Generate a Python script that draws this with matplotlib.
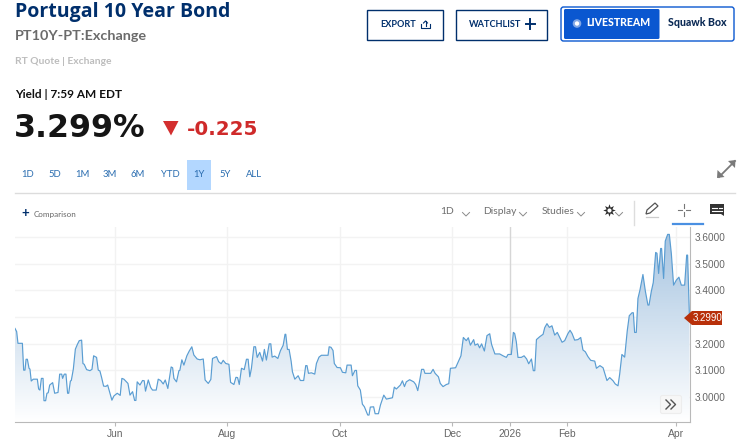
import datetime as dt
import numpy as np
import matplotlib
matplotlib.use("Agg")
import matplotlib.pyplot as plt
import matplotlib.dates as mdates
from matplotlib.colors import LinearSegmentedColormap
from matplotlib.patches import Rectangle, FancyBboxPatch, Polygon, Circle

TITLE = "Portugal 10 Year Bond"
SYMBOL = "PT10Y-PT:Exchange"
QUOTE = "RT Quote | Exchange"
STAMP = "Yield | 7:59 AM EDT"
PRICE = "3.299%"
CHANGE = "-0.225"
RANGES = ["1D", "5D", "1M", "3M", "6M", "YTD", "1Y", "5Y", "ALL"]
START = dt.datetime(2025, 4, 8)
LAST = 3.299
Y_TICKS = [3.0, 3.1, 3.2, 3.3, 3.4, 3.5, 3.6]
Y_LABELS = [3.0, 3.1, 3.2, 3.4, 3.5, 3.6]
X_TICKS = [(dt.datetime(2025, 6, 1), "Jun"), (dt.datetime(2025, 8, 1), "Aug"),
           (dt.datetime(2025, 10, 1), "Oct"), (dt.datetime(2025, 12, 1), "Dec"),
           (dt.datetime(2026, 1, 1), "2026"), (dt.datetime(2026, 2, 1), "Feb"),
           (dt.datetime(2026, 4, 1), "Apr")]

days = [0,.9,1.6,4.0,4.7,5.4,6.0,6.7,7.6,8.1,8.8,9.9,12.1,12.8,13.5,14.3,15.2,15.7,16.6,17.3,18.0,18.8,20.4,21.5,23.3,24.2,25.3,25.8,26.7,27.6,28.5,29.1,30.0,30.5,31.6,32.7,33.8,34.8,36.1,36.8,37.5,38.8,40.6,41.7,42.6,44.2,45.1,46.0,46.9,48.0,49.3,50.2,51.4,52.5,53.6,55.4,57.0,57.9,59.0,61.2,62.3,63.7,64.8,65.5,66.2,67.7,69.1,70.0,70.7,72.2,73.5,74.5,76.5,77.6,78.9,80.3,81.4,82.8,84.6,85.4,86.1,87.5,88.8,89.3,90.4,91.5,93.1,94.4,95.8,96.9,98.7,100.2,102.0,103.0,104.7,106.1,107.0,109.2,110.3,111.7,112.8,114.2,115.9,116.8,118.6,119.7,120.6,121.5,122.7,124.2,125.4,126.3,127.2,
128.1,129.4,130.3,131.2,132.6,134.1,135.1,136.2,137.7,138.6,139.3,140.7,142.4,143.8,145.3,146.3,146.7,147.6,148.5,149.6,150.3,151.6,153.4,154.6,156.4,157.5,158.2,159.0,160.6,162.4,163.3,164.7,166.0,169.6,170.2,171.2,172.3,173.0,174.5,176.3,177.4,179.2,179.9,182.1,182.8,184.2,185.0,185.7,187.1,188.2,189.3,191.1,191.8,192.5,194.3,195.1,196.9,198.0,199.8,201.2,204.5,205.5,206.6,208.1,208.8,209.9,211.0,212.0,213.8,216.0,217.1,218.2,219.3,220.3,221.4,222.1,225.2,226.5,227.6,229.4,230.4,231.9,233.7,235.0,235.9,238.7,240.2,241.6,242.9,244.5,245.6,246.7,248.5,249.2,250.7,251.7,252.8,254.3,255.7,257.2,258.2,260.0,262.6,
264.4,266.2,267.1,268.9,270.0,270.7,271.6,272.5,274.3,275.8,277.2,278.3,279.8,280.8,281.6,282.5,284.3,286.1,287.0,288.2,289.5,290.9,292.4,293.8,294.9,296.4,297.8,299.6,300.7,301.8,303.2,305.0,306.5,307.7,309.0,310.4,311.9,314.1,315.0,316.9,318.6,320.7,322.2,324.0,325.2,326.7,327.6,328.8,330.3,331.7,332.8,334.3,335.0,335.7,336.6,337.5,338.6,340.2,341.5,342.9,343.5,344.7,345.8,347.1,347.8,348.7,349.8,350.3,351.4,352.3,353.6,354.5,355.6,356.8,358.3,359.7,361.0,362.8,363.9,364.4,365.4]
yields = [3.257,3.245,3.201,3.201,3.100,3.100,3.141,3.141,3.107,3.104,3.059,3.066,3.066,3.029,3.025,3.069,3.069,2.985,2.985,3.013,3.015,3.044,3.053,3.013,3.016,3.085,3.085,3.069,3.085,3.085,3.013,3.013,3.059,3.061,3.104,3.179,3.197,3.211,3.213,3.125,3.122,3.102,3.098,3.103,3.154,3.148,3.100,3.097,3.073,3.040,3.039,3.044,3.015,2.987,3.003,3.013,3.005,3.069,3.066,3.050,3.006,3.019,2.986,2.986,3.056,3.044,3.061,3.060,3.021,3.063,3.035,3.025,3.025,3.066,3.061,3.048,3.063,3.031,3.112,3.109,3.069,3.056,3.098,3.099,3.139,3.119,3.154,3.172,3.188,3.157,3.142,3.139,3.142,3.063,3.050,3.065,3.144,3.151,3.132,3.124,3.137,3.125,3.122,3.054,3.046,3.073,3.072,3.046,3.107,3.102,3.141,3.141,3.075,
3.107,3.188,3.188,3.148,3.167,3.134,3.178,3.138,3.199,3.199,3.149,3.153,3.144,3.173,3.194,3.235,3.235,3.178,3.178,3.134,3.094,3.066,3.079,3.061,3.061,3.117,3.117,3.088,3.090,3.085,3.125,3.149,3.156,3.156,3.188,3.186,3.174,3.125,3.110,3.109,3.092,3.090,3.119,3.119,3.079,3.099,3.099,3.041,3.025,2.972,2.962,2.931,2.931,2.961,2.962,2.936,2.936,2.969,3.006,2.991,2.996,3.036,3.029,3.039,3.044,3.060,3.038,3.056,3.064,3.056,3.046,3.023,3.063,3.103,3.103,3.088,3.088,3.103,3.088,3.075,3.050,3.038,3.046,3.049,3.107,3.109,3.132,3.154,3.223,3.211,3.222,3.194,3.215,3.194,3.199,3.184,3.199,3.172,3.230,3.237,3.197,3.161,3.161,
3.154,3.148,3.159,3.159,3.242,3.238,3.207,3.148,3.148,3.154,3.142,3.124,3.142,3.098,3.098,3.215,3.226,3.235,3.260,3.275,3.261,3.267,3.232,3.242,3.226,3.205,3.211,3.238,3.250,3.238,3.213,3.215,3.223,3.176,3.169,3.151,3.137,3.134,3.107,3.117,3.109,3.061,3.072,3.060,3.048,3.041,3.085,3.159,3.149,3.248,3.305,3.316,3.316,3.242,3.242,3.370,3.402,3.460,3.398,3.345,3.345,3.395,3.430,3.543,3.540,3.464,3.558,3.558,3.445,3.586,3.611,3.611,3.538,3.420,3.439,3.450,3.420,3.420,3.533,3.533,3.299]

plt.rcParams["font.family"] = ["Lato", "DejaVu Sans"]
NAVY = "#002f6c"
HEAD = ["Open Sans", "DejaVu Sans"]
WIDE = ["DejaVu Sans"]
TICKF = ["Liberation Sans"]
W, H = 745, 444
fig = plt.figure(figsize=(W / 100, H / 100), dpi=100, facecolor="white")

# ---- chart
ax = fig.add_axes([15 / W, (H - 422.3) / H, 675 / W, 195.3 / H])
dates = [START + dt.timedelta(days=d) for d in days]
xn = mdates.date2num(dates)
x0, x1 = mdates.date2num(START), mdates.date2num(START + dt.timedelta(days=365.7))
y0, y1 = 2.9037, 3.6388
for t in Y_TICKS:
    ax.axhline(t, color="#f3f3f3", lw=1, zorder=1)
for d, lab in X_TICKS:
    ax.axvline(mdates.date2num(d), color="#d6d6d6" if lab == "2026" else "#f2f2f2", lw=1, zorder=1)
cmap = LinearSegmentedColormap.from_list("g", ["#a6c4e1", "#d3e2f0", "#ffffff"], N=256)
poly = ax.fill_between(xn, yields, y0, color="none", lw=0)
im = ax.imshow(np.linspace(0, 1, 256).reshape(-1, 1), extent=[x0, x1, y0, max(yields)],
               aspect="auto", cmap=cmap, origin="upper", zorder=2)
im.set_clip_path(poly.get_paths()[0], transform=ax.transData)
ax.plot(xn, yields, color="#5a9dd2", lw=0.85, zorder=3, solid_joinstyle="round")
ax.set_xlim(x0, x1)
ax.set_ylim(y0, y1)
for s in ("top", "left"):
    ax.spines[s].set_visible(False)
for s in ("bottom", "right"):
    ax.spines[s].set_color("#b9b9b9")
ax.patch.set_alpha(0)
ax.set_xticks([mdates.date2num(d) for d, _ in X_TICKS])
ax.set_xticklabels([l for _, l in X_TICKS], fontsize=7.4, color="#666666", family=TICKF)
ax.set_yticks(Y_LABELS)
ax.set_yticklabels([f"{v:.4f}" for v in Y_LABELS], fontsize=7.2, color="#666666", family=TICKF)
ax.yaxis.tick_right()
ax.tick_params(axis="x", length=3, width=0.8, color="#b9b9b9", pad=1.5)
ax.tick_params(axis="y", length=0, pad=3.5)

# ---- page furniture, in pixel coordinates
ov = fig.add_axes([0, 0, 1, 1], zorder=5)
ov.set_xlim(0, W)
ov.set_ylim(H, 0)
ov.axis("off")
ov.patch.set_alpha(0)

ov.text(15, 12.5, TITLE, fontsize=14, fontweight="bold", color=NAVY, va="center", family=HEAD)
ov.text(15, 36, SYMBOL, fontsize=10.4, fontweight="bold", color="#6b6b6b", va="center")
ov.text(15, 62, QUOTE, fontsize=7.4, fontweight="bold", color="#bdbdbd", va="center")
ov.text(15, 95, STAMP, fontsize=8.5, fontweight="bold", color="#111111", va="center")
ov.text(14, 128, PRICE, fontsize=22.8, fontweight="bold", color="#151515", va="center", family=WIDE)
ov.add_patch(Polygon([[163, 121], [178.5, 121], [171, 135.5]], color="#d32f2f", lw=0))
ov.text(187, 129, CHANGE, fontsize=14.3, fontweight="bold", color="#cf2a2a", va="center", family=WIDE)

ov.add_patch(Rectangle((187, 160), 24, 30, color="#b3d7ff", lw=0))
for lab, x in zip(RANGES, [28, 54.5, 82, 109.5, 138, 170, 199, 225, 254]):
    ov.text(x, 174.5, lab, fontsize=6.8, color="#2a6db0", ha="center", va="center")
ov.plot([15, 735], [193, 193], color="#dcdcdc", lw=1)

# expand icon
ov.plot([719, 735], [177, 161], color="#7a7a7a", lw=1.3)
ov.add_patch(Polygon([[735.5, 160], [728, 161], [735, 168]], color="#7a7a7a", lw=0))
ov.add_patch(Polygon([[717, 178], [724.5, 177], [717.5, 170]], color="#7a7a7a", lw=0))

# buttons
for a, b in [(367, 443), (456, 546.5)]:
    ov.add_patch(Rectangle((a, 10), b - a, 30.5, fill=False, ec=NAVY, lw=1.0))
ov.text(380, 24.5, "EXPORT", fontsize=6.6, fontweight="bold", color=NAVY, va="center")
ov.plot([421, 421, 430, 430], [24, 28.5, 28.5, 24], color=NAVY, lw=0.8)
ov.plot([425.5, 425.5], [21, 26.5], color=NAVY, lw=0.8)
ov.plot([423.5, 425.5, 427.5], [23, 21, 23], color=NAVY, lw=0.8)
ov.text(468.5, 24.5, "WATCHLIST", fontsize=6.6, fontweight="bold", color=NAVY, va="center")
ov.plot([525.5, 535], [24, 24], color=NAVY, lw=1.4)
ov.plot([530.2, 530.2], [19.5, 29], color=NAVY, lw=1.4)
ov.add_patch(FancyBboxPatch((561, 7), 173, 34, boxstyle="round,pad=0,rounding_size=2.5",
                            fill=False, ec="#0a57d0", lw=1.0))
ov.add_patch(FancyBboxPatch((564, 9), 95.5, 30, boxstyle="round,pad=0,rounding_size=1.5",
                            fc="#0a57d0", ec="none"))
ov.add_patch(Circle((577, 23.5), 4.3, fc="#7fa6e6", ec="none"))
ov.add_patch(Circle((577, 23.5), 2.2, fc="white", ec="none"))
ov.text(586, 23, "LIVESTREAM", fontsize=7.6, fontweight="black", color="white", va="center")
ov.text(668, 23, "Squawk Box", fontsize=7.6, fontweight="black", color="#0b2a55", va="center")

# toolbar
ov.text(25, 213, "+", fontsize=9.5, fontweight="bold", color=NAVY, ha="center", va="center")
ov.text(34, 214, "Comparison", fontsize=5.8, color="#666666", va="center")
for lab, x in [("1D", 447), ("Display", 500), ("Studies", 558)]:
    ov.text(x, 211, lab, fontsize=7.4, color="#6e6e6e", ha="center", va="center")
for cx in [466, 523, 581, 619]:
    ov.plot([cx - 3.5, cx, cx + 3.5], [212.5, 216, 212.5], color="#8a8a8a", lw=0.7)
ov.plot([609], [210], marker=(8, 1, 0), ms=9, color="#2a2a2a", mew=0)
ov.plot([609], [210], marker="o", ms=3, color="white", mew=0)
ov.plot([633.5, 633.5], [201, 225], color="#dddddd", lw=1)
ov.add_patch(Polygon([[646, 214], [647, 210], [655, 203], [658, 206], [650, 213]], fill=False, ec="#555555", lw=0.9))
ov.plot([646, 658], [216.5, 216.5], color="#cccccc", lw=0.9)
ov.plot([678, 682], [210, 210], color="#777777", lw=0.8)
ov.plot([686, 690], [210, 210], color="#777777", lw=0.8)
ov.plot([684, 684], [204, 208], color="#777777", lw=0.8)
ov.plot([684, 684], [212, 216], color="#777777", lw=0.8)
ov.plot([673, 703], [224, 224], color="#4a90e2", lw=1.6)
ov.add_patch(Polygon([[710, 204], [724, 204], [724, 216], [721, 214], [710, 214]], color="#333333", lw=0))
ov.plot([712, 717], [207.5, 207.5], color="white", lw=0.8)
ov.plot([719, 722], [207.5, 207.5], color="white", lw=0.8)
ov.plot([712, 722], [210.5, 210.5], color="white", lw=0.8)

# last value flag
ov.add_patch(Polygon([[684, 318], [692, 311], [722, 311], [722, 325], [692, 325]], color="#b8300a", lw=0))
ov.text(707.5, 318, f"{LAST:.4f}", fontsize=7.0, color="white", ha="center", va="center", family=TICKF)

# scroll button
ov.add_patch(FancyBboxPatch((660.5, 395.5), 21, 18, boxstyle="round,pad=0,rounding_size=2",
                            fc="#f7f7f7", ec="#ededed", lw=0.8))
for off in (0, 5):
    ov.plot([666 + off, 670.5 + off, 666 + off], [400, 404.5, 409], color="#555555", lw=1.0)

fig.savefig("out.png", dpi=100, facecolor="white")
